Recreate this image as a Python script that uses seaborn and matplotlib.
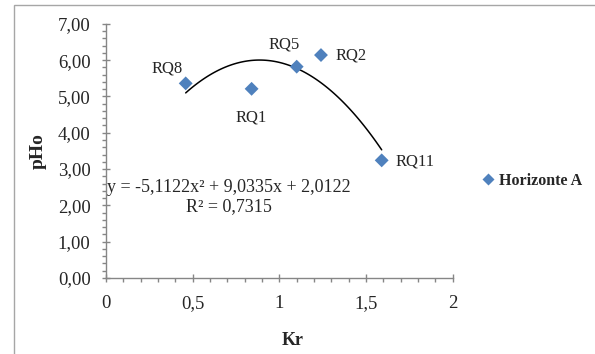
import matplotlib
matplotlib.use("Agg")
import matplotlib.pyplot as plt
import seaborn as sns
import pandas as pd
from matplotlib.ticker import MultipleLocator, FixedLocator
from matplotlib.patches import Rectangle

# dados
pontos = ["RQ1", "RQ2", "RQ5", "RQ8", "RQ11"]
kr = [0.84, 1.24, 1.10, 0.46, 1.59]
pho = [5.21, 6.14, 5.82, 5.36, 3.24]
serie = "Horizonte A"

x_ticks = [0, 0.5, 1, 1.5, 2]
x_labels = ["0", "0,5", "1", "1,5", "2"]
y_ticks = [0, 1, 2, 3, 4, 5, 6, 7]
y_labels = ["0,00", "1,00", "2,00", "3,00", "4,00", "5,00", "6,00", "7,00"]
equacao = "y = -5,1122x² + 9,0335x + 2,0122"
r2 = "R² = 0,7315"

# deslocamento dos rótulos (pt)
offsets = {"RQ1": (0, -21), "RQ2": (22, 0), "RQ5": (-9, 16),
           "RQ8": (-13, 11), "RQ11": (24, -1)}

df = pd.DataFrame({"Kr": kr, "pHo": pho, "ponto": pontos, "serie": serie})

sns.set_style("white")
plt.rcParams['font.family'] = ['Liberation Serif', 'DejaVu Serif']
plt.rcParams['font.size'] = 11

fig = plt.figure(figsize=(5.95, 3.54), dpi=100)
ax = fig.add_axes([0.178, 0.2147, 0.583, 0.718])

cor = "#4F81BD"
sns.regplot(x="Kr", y="pHo", data=df, order=2, ci=None, scatter=False,
            line_kws={"color": "black", "lw": 1.1}, ax=ax)
sns.scatterplot(x="Kr", y="pHo", data=df, hue="serie", palette=[cor],
                marker="D", s=50, edgecolor="none", ax=ax, zorder=3)

for p, xv, yv in zip(pontos, kr, pho):
    ax.annotate(p, (xv, yv), xytext=offsets[p], textcoords="offset points",
                ha="center", va="center", fontsize=12)

ax.set_xlim(0, 2)
ax.set_ylim(0, 7)
ax.xaxis.set_major_locator(FixedLocator(x_ticks))
ax.set_xticklabels(x_labels)
ax.yaxis.set_major_locator(FixedLocator(y_ticks))
ax.set_yticklabels(y_labels)
ax.xaxis.set_minor_locator(MultipleLocator(0.1))
ax.yaxis.set_minor_locator(MultipleLocator(0.2))

cinza = "#868686"
for s in ["top", "right"]:
    ax.spines[s].set_visible(False)
for s in ["left", "bottom"]:
    ax.spines[s].set_color(cinza)
    ax.spines[s].set_linewidth(1)
ax.tick_params(which="major", direction="inout", length=6, width=1,
               color=cinza, labelsize=13.5, left=True, bottom=True)
ax.tick_params(axis="y", which="major", pad=8)
ax.tick_params(axis="x", which="major", pad=9)
ax.tick_params(which="minor", direction="out", length=3, width=1,
               color=cinza, left=True, bottom=True)

ax.set_xlabel("Kr", fontweight="bold", fontsize=13)
ax.set_ylabel("pHo", fontweight="bold", fontsize=14)
ax.xaxis.set_label_coords(0.539, -0.213)
ax.yaxis.set_label_coords(-0.17, 0.5)

ax.text(0.355, 0.358, equacao, transform=ax.transAxes, ha="center",
        va="center", fontsize=13)
ax.text(0.355, 0.28, r2, transform=ax.transAxes, ha="center",
        va="center", fontsize=13)

leg = ax.legend(loc="center left", bbox_to_anchor=(0.798, 0.49),
                bbox_transform=fig.transFigure, frameon=False,
                handlelength=0.8, handletextpad=0.3, borderaxespad=0,
                prop={"weight": "bold", "size": 11.5})
for h in leg.legend_handles:
    h.set_markersize(6.5)

# moldura do gráfico (só as bordas superior e esquerda aparecem)
fig.patches.append(Rectangle((14 / 595, -0.05), 0.99, 1.036,
                             transform=fig.transFigure, fill=False,
                             edgecolor="#A6A6A6", lw=1))

fig.savefig("out.png", dpi=100)
